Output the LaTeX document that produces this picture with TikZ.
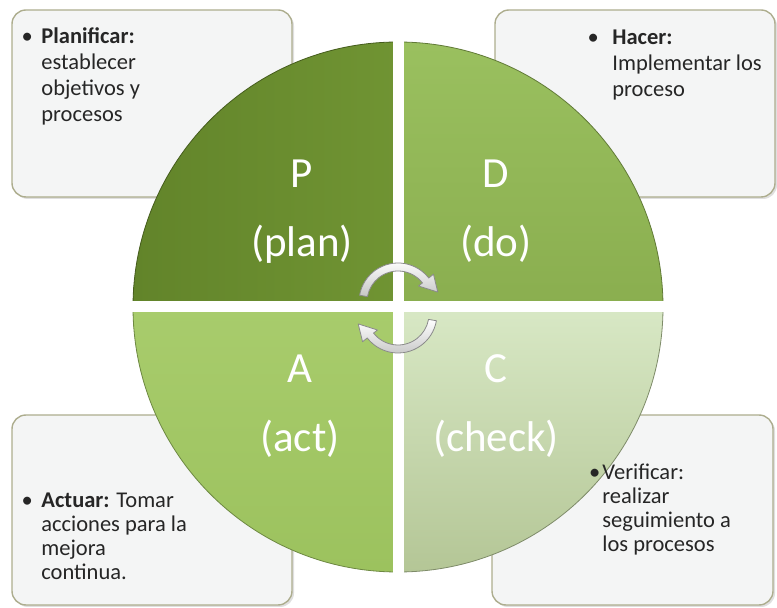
\documentclass[tikz,border=0pt]{standalone}
\usepackage{fontspec}
\setmainfont{Carlito}
\usetikzlibrary{arrows.meta,positioning,calc,shadows}

\definecolor{boxfill}{HTML}{F4F5F5}
\definecolor{boxline}{HTML}{ADAD8E}
\definecolor{txtgray}{HTML}{262626}
\definecolor{plandark}{HTML}{62842A}
\definecolor{planlight}{HTML}{709433}
\definecolor{dodark}{HTML}{8AAE4F}
\definecolor{dolight}{HTML}{9AC05F}
\definecolor{actdark}{HTML}{9CC25E}
\definecolor{actlight}{HTML}{A8CC6C}
\definecolor{checkdark}{HTML}{B4C696}
\definecolor{checklight}{HTML}{D8E8C5}
\definecolor{arrowline}{HTML}{8A8A8A}

\begin{document}
\begin{tikzpicture}[x=1pt, y=1pt, line join=round,
  infobox/.style={fill=boxfill, draw=boxline, line width=1.4pt, rounded corners=14pt,
    drop shadow={opacity=0.25, shadow xshift=2pt, shadow yshift=-2pt}},
  boxtext/.style={anchor=north west, inner sep=0pt, text=txtgray, align=left},
  bigletter/.style={anchor=base, inner sep=0pt, text=white, font=\fontsize{43}{50}\selectfont},
  cyclearrow/.style={top color=white, bottom color=gray!45, draw=arrowline, line width=0.8pt}]

\useasboundingbox (0,0) rectangle (777,608);

% text boxes behind the circle
\draw[infobox] (12,411) rectangle (292,598);
\draw[infobox] (495,411) rectangle (775,598);
\draw[infobox] (12,3) rectangle (292,193);
\draw[infobox] (492,3) rectangle (773,193);

% the four quarters
\coordinate (ctr) at (398,301);
\shade[left color=plandark, right color=planlight] (ctr) -- +(-265,0) arc[start angle=180, end angle=90, radius=265] -- cycle;
\shade[top color=dolight, bottom color=dodark] (ctr) -- +(0,265) arc[start angle=90, end angle=0, radius=265] -- cycle;
\shade[top color=actlight, bottom color=actdark] (ctr) -- +(0,-265) arc[start angle=270, end angle=180, radius=265] -- cycle;
\shade[top color=checklight, bottom color=checkdark] (ctr) -- +(265,0) arc[start angle=0, end angle=-90, radius=265] -- cycle;
\draw[plandark!70!black, line width=0.8pt] ($(ctr)+(-265,0)$) arc[start angle=180, end angle=90, radius=265];
\draw[dodark!70!black, line width=0.8pt] ($(ctr)+(0,265)$) arc[start angle=90, end angle=0, radius=265];
\draw[actdark!70!black, line width=0.8pt] ($(ctr)+(0,-265)$) arc[start angle=270, end angle=180, radius=265];
\draw[checkdark!70!black, line width=0.8pt] ($(ctr)+(265,0)$) arc[start angle=0, end angle=-90, radius=265];
\draw[white, line width=11pt] ($(ctr)+(-267,0)$) -- ($(ctr)+(267,0)$);
\draw[white, line width=11pt] ($(ctr)+(0,-267)$) -- ($(ctr)+(0,267)$);

\node[bigletter] (pLetter) at (302,420) {P};
\node[bigletter] (pWord) at (302,351) {(plan)};
\node[bigletter] (dLetter) at (496,420) {D};
\node[bigletter] (dWord) at (496,351) {(do)};
\node[bigletter] (aLetter) at (300,225) {A};
\node[bigletter] (aWord) at (300,156) {(act)};
\node[bigletter] (cLetter) at (496,225) {C};
\node[bigletter] (cWord) at (496,156) {(check)};

% box texts
\node[boxtext, font=\fontsize{22.5}{26}\selectfont] (planText) at (21.5,583.2)
  {\begin{tabular}{@{}l@{\hspace{8.5pt}}l@{}}\textbullet & \textbf{Planificar:}\\ & establecer\\ & objetivos y\\ & procesos\end{tabular}};
\node[boxtext, font=\fontsize{22.5}{26}\selectfont] (doText) at (587.5,582)
  {\begin{tabular}{@{}l@{\hspace{13.5pt}}l@{}}\textbullet & \textbf{Hacer:}\\ & Implementar los\\ & proceso\end{tabular}};
\node[boxtext, font=\fontsize{22.5}{24}\selectfont] (actText) at (21.5,117.8)
  {\begin{tabular}{@{}l@{\hspace{8.5pt}}l@{}}\textbullet & \textbf{Actuar:} Tomar\\ & acciones para la\\ & mejora\\ & continua.\end{tabular}};
\node[boxtext, font=\fontsize{22.5}{24}\selectfont] (checkText) at (589,145.8)
  {\begin{tabular}{@{}l@{\hspace{2pt}}l@{}}\textbullet & Verificar:\\ & realizar\\ & seguimiento a\\ & los procesos\end{tabular}};

% cycle arrows in the middle
\begin{scope}[shift={(398,306)}]
  \shadedraw[cyclearrow] (170:39) arc[start angle=170, end angle=38, radius=39] -- (38:45) -- (14:41)
    -- (38:26) -- (38:31) arc[start angle=38, end angle=170, radius=31] -- cycle;
\end{scope}
\begin{scope}[shift={(398,294)}]
  \shadedraw[cyclearrow] (-10:39) arc[start angle=-10, end angle=-142, radius=39] -- (-142:45) -- (-166:41)
    -- (-142:26) -- (-142:31) arc[start angle=-142, end angle=-10, radius=31] -- cycle;
\end{scope}

\end{tikzpicture}
\end{document}
